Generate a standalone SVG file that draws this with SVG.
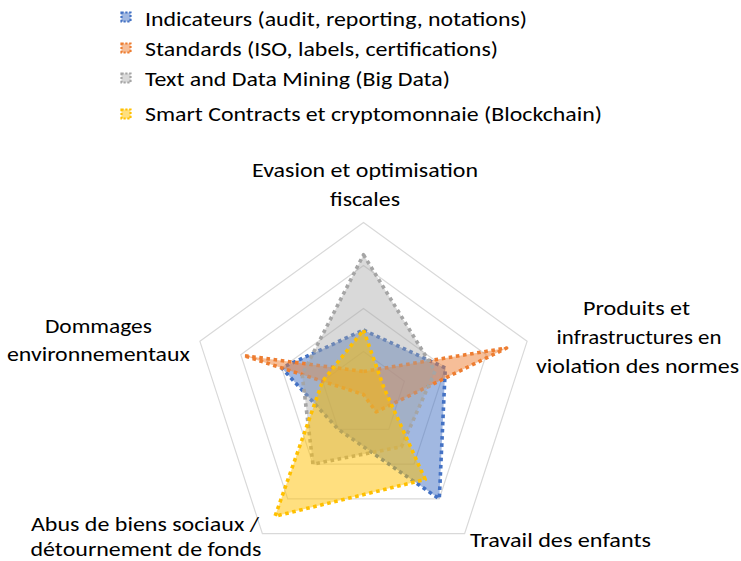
<svg xmlns="http://www.w3.org/2000/svg" width="741" height="561" viewBox="0 0 741 561">
<style>
text{font-family:"Carlito","Lato","Liberation Sans",sans-serif;font-size:20px;fill:#000}
.grid{fill:none;stroke:#D9D9D9;stroke-width:1.2}
.s{stroke-width:3.6;stroke-dasharray:3.6 3.6;stroke-linejoin:round}
.blue{fill:#4472C4;fill-opacity:.5;stroke:#4472C4}
.orange{fill:#ED7D31;fill-opacity:.5;stroke:#ED7D31}
.gray{fill:#A5A5A5;fill-opacity:.42;stroke:#A5A5A5}
.yellow{fill:#FFC000;fill-opacity:.5;stroke:#FFC000}
.lm{stroke-width:2.2;stroke-dasharray:2.2 1.6}
.c{text-anchor:middle}
</style>
<rect width="741" height="561" fill="#fff"/>
<g id="grid">
<polygon class="grid" points="363.5,222.5 527.1,341.35 464.6,533.65 262.4,533.65 199.9,341.35"/>
<polygon class="grid" points="363.5,265.5 486.2,354.64 439.3,498.86 287.7,498.86 240.8,354.64"/>
<polygon class="grid" points="363.5,308.5 445.3,367.93 414.05,464.07 312.95,464.07 281.7,367.93"/>
<polygon class="grid" points="363.5,351.5 404.4,381.21 388.78,429.29 338.22,429.29 322.6,381.21"/>
</g>
<g id="series">
<polygon id="s-indicateurs" class="s blue" points="363.5,330 445.3,367.93 439.3,498.86 338.22,429.29 281.7,367.93"/>
<polygon id="s-standards" class="s orange" points="363.5,371.5 506.64,348 376.14,411.89 363.5,394.5 243.66,355.57"/>
<polygon id="s-tdm" class="s gray" points="363.5,254.75 435.07,371.25 401.41,446.68 312.95,464.07 302.15,374.57"/>
<polygon id="s-smart" class="s yellow" points="363.5,330 383.95,387.86 425.22,479.45 275.04,516.25 322.6,381.21"/>
</g>
<g id="legend">
<g id="leg-1"><rect class="lm blue" x="121.5" y="12.5" width="9" height="9"/><text x="145" y="26" textLength="382" lengthAdjust="spacingAndGlyphs">Indicateurs (audit, reporting, notations)</text></g>
<g id="leg-2"><rect class="lm orange" x="121.5" y="43.5" width="9" height="9"/><text x="145" y="56" textLength="353" lengthAdjust="spacingAndGlyphs">Standards (ISO, labels, certifications)</text></g>
<g id="leg-3"><rect class="lm gray" x="121.5" y="73.5" width="9" height="9"/><text x="145" y="86" textLength="305" lengthAdjust="spacingAndGlyphs">Text and Data Mining (Big Data)</text></g>
<g id="leg-4"><rect class="lm yellow" x="121.5" y="109.5" width="9" height="9"/><text x="145" y="120.5" textLength="457" lengthAdjust="spacingAndGlyphs">Smart Contracts et cryptomonnaie (Blockchain)</text></g>
</g>
<g id="labels">
<g id="lab-evasion"><text class="c" x="365" y="177" textLength="226" lengthAdjust="spacingAndGlyphs">Evasion et optimisation</text><text class="c" x="365" y="206" textLength="70" lengthAdjust="spacingAndGlyphs">fiscales</text></g>
<g id="lab-produits"><text class="c" x="636.5" y="315" textLength="107" lengthAdjust="spacingAndGlyphs">Produits et</text><text class="c" x="639" y="344" textLength="165" lengthAdjust="spacingAndGlyphs">infrastructures en</text><text class="c" x="637.5" y="373" textLength="203" lengthAdjust="spacingAndGlyphs">violation des normes</text></g>
<g id="lab-travail"><text x="470" y="547" textLength="181" lengthAdjust="spacingAndGlyphs">Travail des enfants</text></g>
<g id="lab-abus"><text x="31" y="530.5" textLength="228" lengthAdjust="spacingAndGlyphs">Abus de biens sociaux /</text><text x="30.5" y="556" textLength="231" lengthAdjust="spacingAndGlyphs">détournement de fonds</text></g>
<g id="lab-dommages"><text class="c" x="98.4" y="332.5" textLength="107" lengthAdjust="spacingAndGlyphs">Dommages</text><text class="c" x="98.4" y="360.5" textLength="183" lengthAdjust="spacingAndGlyphs">environnementaux</text></g>
</g>
</svg>
